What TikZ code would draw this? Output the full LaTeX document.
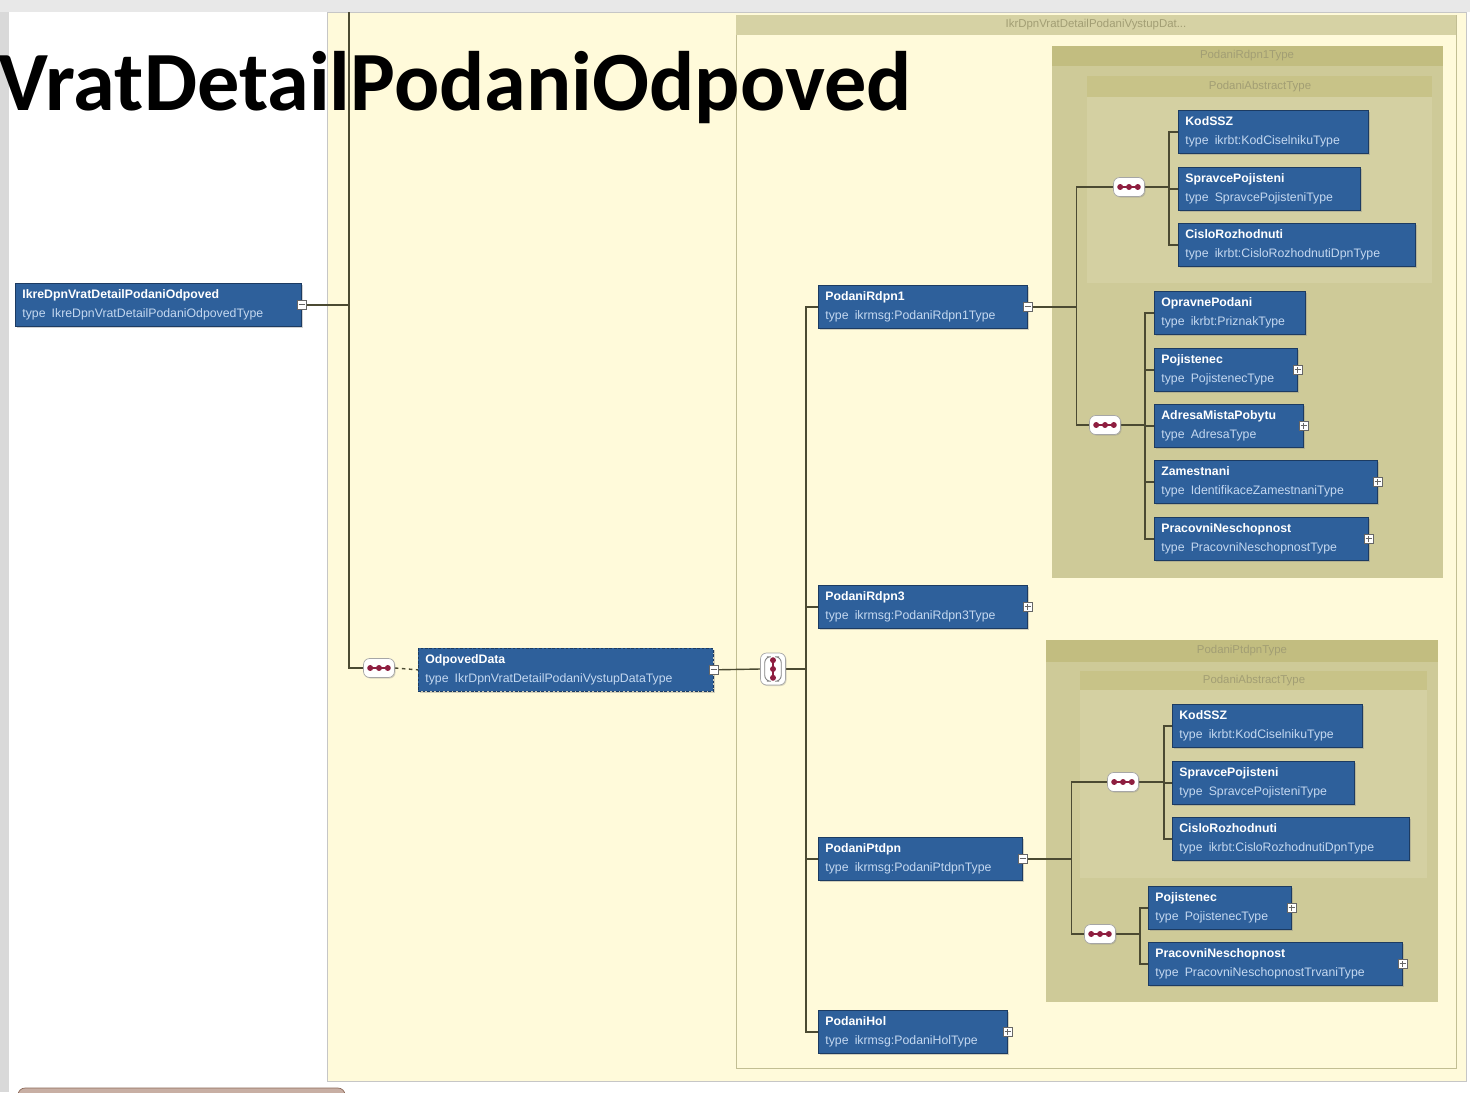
\documentclass[tikz,border=0pt]{standalone}
\usepackage{fontspec}
\usepackage{xcolor}
\usepackage{tikz}
\usetikzlibrary{shadows}
\newfontfamily\boxfont{Liberation Sans}
\newfontfamily\titlefont{Carlito}

\definecolor{panelyellow}{HTML}{FFFADA}
\definecolor{outerband}{HTML}{D6D2A4}
\definecolor{outeredge}{HTML}{C2BE93}
\definecolor{groupband}{HTML}{C2BD80}
\definecolor{groupbody}{HTML}{CECA98}
\definecolor{innerband}{HTML}{C8C388}
\definecolor{innerbody}{HTML}{D4D0A2}
\definecolor{bandtext}{HTML}{A29E74}
\definecolor{elemblue}{HTML}{2E609B}
\definecolor{elemedge}{HTML}{1C3B62}
\definecolor{typeblue}{HTML}{C4D8F0}
\definecolor{wire}{HTML}{4B4A32}
\definecolor{dotred}{HTML}{8E1E40}
\definecolor{tabfill}{HTML}{C8AFA4}
\definecolor{tabedge}{HTML}{8C6A5A}

\newcommand{\typ}[1]{\textcolor{typeblue}{type\enspace #1}}
\newcommand{\nohyph}{\hyphenpenalty=10000 \exhyphenpenalty=10000 }

\pgfdeclarelayer{back}
\pgfdeclarelayer{wires}
\pgfsetlayers{back,wires,main}

\begin{document}
\begin{tikzpicture}[x=0.02cm, y=-0.02cm,
  elem/.style={draw=elemedge, fill=elemblue, anchor=north west,
    /utils/exec={\pgfmathsetlengthmacro\elemtw{#1*0.02cm-0.28cm}}, text width=\elemtw,
    minimum height=0.86cm, inner xsep=0.14cm, inner ysep=1pt, align=left, text=white,
    font={\boxfont\fontsize{7}{10.5}\selectfont\nohyph},
    drop shadow={opacity=0.35, shadow xshift=0.7pt, shadow yshift=-0.7pt}},
  minusbox/.style={draw=gray!80!black, fill=white, minimum size=0.18cm, inner sep=0pt, anchor=center,
    path picture={\draw[line width=0.5pt] ([xshift=-1.8pt]path picture bounding box.center) -- ([xshift=1.8pt]path picture bounding box.center);}},
  plusbox/.style={draw=gray!80!black, fill=white, minimum size=0.18cm, inner sep=0pt, anchor=center,
    path picture={\draw[line width=0.5pt] ([xshift=-1.8pt]path picture bounding box.center) -- ([xshift=1.8pt]path picture bounding box.center);
      \draw[line width=0.5pt] ([yshift=-1.8pt]path picture bounding box.center) -- ([yshift=1.8pt]path picture bounding box.center);}},
  seqbox/.style={draw=gray!70, fill=white, rounded corners=0.12cm, minimum width=0.62cm, minimum height=0.38cm, inner sep=0pt,
    drop shadow={opacity=0.3, shadow xshift=0.6pt, shadow yshift=-0.6pt},
    path picture={\draw[dotred, line width=0.7pt] ([xshift=-6pt]path picture bounding box.center) -- ([xshift=6pt]path picture bounding box.center);
      \foreach \d in {-5pt,0pt,5pt} \fill[dotred] ([xshift=\d]path picture bounding box.center) circle (1.7pt);}},
  choicebox/.style={draw=gray!70, fill=white, rounded corners=0.12cm, minimum width=0.5cm, minimum height=0.64cm, inner sep=0pt,
    drop shadow={opacity=0.3, shadow xshift=0.6pt, shadow yshift=-0.6pt},
    path picture={\draw[dotred, line width=0.7pt] ([yshift=-6pt]path picture bounding box.center) -- ([yshift=6pt]path picture bounding box.center);
      \foreach \d in {-5pt,0pt,5pt} \fill[dotred] ([yshift=\d]path picture bounding box.center) circle (1.7pt);
      \draw[gray, line width=0.5pt] ([xshift=-3.5pt,yshift=7pt]path picture bounding box.center) -- ++(-1.2pt,0) -- ++(0,-14pt) -- ++(1.2pt,0);
      \draw[gray, line width=0.5pt] ([xshift=3.5pt,yshift=7pt]path picture bounding box.center) -- ++(1.2pt,0) -- ++(0,-14pt) -- ++(-1.2pt,0);}},
  bandlabel/.style={text=bandtext, font={\boxfont\fontsize{6.5}{7}\selectfont}, inner sep=0pt},
  wire/.style={draw=wire, line width=0.8pt}]

\useasboundingbox (0,0) rectangle (1470,1092);

% frame, panels and type groups
\begin{pgfonlayer}{back}
\fill[gray!18] (0,0) rectangle (1470,12);
\fill[gray!30] (0,12) rectangle (9,1092);
\fill[white] (9,12) rectangle (1470,1092);
\filldraw[fill=panelyellow, draw=gray!45] (327,12) rectangle (1466,1081);
\filldraw[fill=tabfill, draw=tabedge, rounded corners=4pt] (18,1088) rectangle (345,1110);

\filldraw[fill=panelyellow, draw=outeredge] (736,15) rectangle (1456,1068);
\fill[outerband] (736,15) rectangle (1456,35);
\node[bandlabel] (vystup) at (1096,25) {IkrDpnVratDetailPodaniVystupDat...};

\fill[groupbody] (1052,46) rectangle (1443,578);
\fill[groupband] (1052,46) rectangle (1443,66);
\node[bandlabel] (rdpn1type) at (1247,56) {PodaniRdpn1Type};
\fill[innerbody] (1087,76) rectangle (1432,283);
\fill[innerband] (1087,76) rectangle (1432,97);
\node[bandlabel] (abstract1) at (1260,87) {PodaniAbstractType};

\fill[groupbody] (1046,640) rectangle (1438,1002);
\fill[groupband] (1046,640) rectangle (1438,662);
\node[bandlabel] (ptdpntype) at (1242,651) {PodaniPtdpnType};
\fill[innerbody] (1080,671) rectangle (1427,878);
\fill[innerband] (1080,671) rectangle (1427,690);
\node[bandlabel] (abstract2) at (1254,681) {PodaniAbstractType};
\end{pgfonlayer}

% elements
\node[elem=286, label={[minusbox]east:}] (root) at (15,283) {\textbf{IkreDpnVratDetailPodaniOdpoved}\\\typ{IkreDpnVratDetailPodaniOdpovedType}};
\node[seqbox] (seqA) at (379,668) {};
\node[elem=295, dash pattern=on 1.5pt off 1pt, label={[minusbox]east:}] (odp) at (418,648) {\textbf{OdpovedData}\\\typ{IkrDpnVratDetailPodaniVystupDataType}};
\node[choicebox] (choice) at (773,669) {};

\node[elem=209, label={[minusbox]east:}] (rdpn1) at (818,285) {\textbf{PodaniRdpn1}\\\typ{ikrmsg:PodaniRdpn1Type}};
\node[elem=209, label={[plusbox]east:}] (rdpn3) at (818,585) {\textbf{PodaniRdpn3}\\\typ{ikrmsg:PodaniRdpn3Type}};
\node[elem=204, label={[minusbox]east:}] (ptdpn) at (818,837) {\textbf{PodaniPtdpn}\\\typ{ikrmsg:PodaniPtdpnType}};
\node[elem=189, label={[plusbox]east:}] (hol) at (818,1010) {\textbf{PodaniHol}\\\typ{ikrmsg:PodaniHolType}};

% PodaniRdpn1 content
\node[seqbox] (seq1) at (1129,187) {};
\node[elem=190] (kod1) at (1178,110) {\textbf{KodSSZ}\\\typ{ikrbt:KodCiselnikuType}};
\node[elem=182] (spr1) at (1178,167) {\textbf{SpravcePojisteni}\\\typ{SpravcePojisteniType}};
\node[elem=237] (cis1) at (1178,223) {\textbf{CisloRozhodnuti}\\\typ{ikrbt:CisloRozhodnutiDpnType}};
\node[seqbox] (seq2) at (1105,425) {};
\node[elem=151] (opr) at (1154,291) {\textbf{OpravnePodani}\\\typ{ikrbt:PriznakType}};
\node[elem=143, label={[plusbox]east:}] (poj1) at (1154,348) {\textbf{Pojistenec}\\\typ{PojistenecType}};
\node[elem=149, label={[plusbox]east:}] (adr) at (1154,404) {\textbf{AdresaMistaPobytu}\\\typ{AdresaType}};
\node[elem=223, label={[plusbox]east:}] (zam) at (1154,460) {\textbf{Zamestnani}\\\typ{IdentifikaceZamestnaniType}};
\node[elem=214, label={[plusbox]east:}] (prac1) at (1154,517) {\textbf{PracovniNeschopnost}\\\typ{PracovniNeschopnostType}};

% PodaniPtdpn content
\node[seqbox] (seq3) at (1123,782) {};
\node[elem=190] (kod2) at (1172,704) {\textbf{KodSSZ}\\\typ{ikrbt:KodCiselnikuType}};
\node[elem=182] (spr2) at (1172,761) {\textbf{SpravcePojisteni}\\\typ{SpravcePojisteniType}};
\node[elem=237] (cis2) at (1172,817) {\textbf{CisloRozhodnuti}\\\typ{ikrbt:CisloRozhodnutiDpnType}};
\node[seqbox] (seq4) at (1100,934) {};
\node[elem=143, label={[plusbox]east:}] (poj2) at (1148,886) {\textbf{Pojistenec}\\\typ{PojistenecType}};
\node[elem=254, label={[plusbox]east:}] (prac2) at (1148,942) {\textbf{PracovniNeschopnost}\\\typ{PracovniNeschopnostTrvaniType}};

% connectors
\begin{pgfonlayer}{wires}
\coordinate (rootbus) at (349,12);
\draw[wire] (root.east) -- (root.east -| rootbus);
\draw[wire] (rootbus) |- (seqA.west);
\draw[wire, dash pattern=on 2pt off 2pt] (seqA.east) -- (odp.west);
\draw[wire] (odp.east) -- (choice.west);
\draw[wire] (choice.east) -- ++(20,0) coordinate (cb);
\draw[wire] (cb) |- (rdpn1.west);
\draw[wire] (cb) |- (rdpn3.west);
\draw[wire] (cb) |- (ptdpn.west);
\draw[wire] (cb) |- (hol.west);

\draw[wire] (rdpn1.east) -- ++(49,0) coordinate (j1);
\draw[wire] (j1) |- (seq1.west);
\draw[wire] (j1) |- (seq2.west);
\draw[wire] (seq1.east) -- ++(24,0) coordinate (b1);
\draw[wire] (b1) |- (kod1.west);
\draw[wire] (b1) |- (spr1.west);
\draw[wire] (b1) |- (cis1.west);
\draw[wire] (seq2.east) -- ++(24,0) coordinate (b2);
\draw[wire] (b2) |- (opr.west);
\draw[wire] (b2) |- (poj1.west);
\draw[wire] (b2) |- (adr.west);
\draw[wire] (b2) |- (zam.west);
\draw[wire] (b2) |- (prac1.west);

\draw[wire] (ptdpn.east) -- ++(49,0) coordinate (j2);
\draw[wire] (j2) |- (seq3.west);
\draw[wire] (j2) |- (seq4.west);
\draw[wire] (seq3.east) -- ++(25,0) coordinate (b3);
\draw[wire] (b3) |- (kod2.west);
\draw[wire] (b3) |- (spr2.west);
\draw[wire] (b3) |- (cis2.west);
\draw[wire] (seq4.east) -- ++(24,0) coordinate (b4);
\draw[wire] (b4) |- (poj2.west);
\draw[wire] (b4) |- (prac2.west);
\end{pgfonlayer}

% title
\node[font={\titlefont\bfseries\fontsize{48}{50}\selectfont}, anchor=base west, inner sep=0pt] (title) at (-2,110) {VratDetailPodaniOdpoved};
\end{tikzpicture}
\end{document}
